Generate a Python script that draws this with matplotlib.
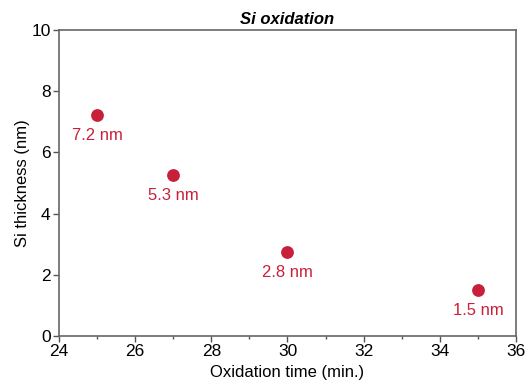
import matplotlib.pyplot as plt
from matplotlib.ticker import MultipleLocator

plt.rcParams['font.family'] = ['Liberation Sans', 'DejaVu Sans']

tiempo = [25, 27, 30, 35]
espesor = [7.22, 5.25, 2.74, 1.49]
etiquetas = ['7.2 nm', '5.3 nm', '2.8 nm', '1.5 nm']
color = '#c8203b'

fig = plt.figure(figsize=(5.30, 3.83), dpi=100)
ax = fig.add_axes([59 / 530, 1 - 336 / 383, 457 / 530, 306 / 383])

ax.scatter(tiempo, espesor, s=85, color=color, zorder=3, linewidths=0)
for x, y, t in zip(tiempo, espesor, etiquetas):
    ax.annotate(t, (x, y), xytext=(0, -9), textcoords='offset points',
                ha='center', va='top', color=color, fontsize=12)

ax.set_xlim(24, 36)
ax.set_ylim(0, 10)
ax.xaxis.set_major_locator(MultipleLocator(2))
ax.xaxis.set_minor_locator(MultipleLocator(1))
ax.yaxis.set_major_locator(MultipleLocator(2))
ax.tick_params(which='major', length=4, width=1, color='#555555', labelsize=12.5, pad=2)
ax.tick_params(which='minor', length=2.5, width=1, color='#555555')
for s in ax.spines.values():
    s.set_color('#666666')
    s.set_linewidth(1.2)

ax.set_xlabel('Oxidation time (min.)', fontsize=12, labelpad=4)
ax.set_ylabel('Si thickness (nm)', fontsize=12, labelpad=1)
ax.set_title('Si oxidation', fontsize=12, fontweight='bold', style='italic', pad=4)

fig.savefig('out.png', dpi=100)
